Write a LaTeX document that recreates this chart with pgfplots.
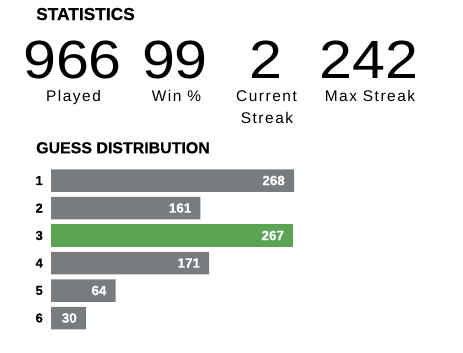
\documentclass[border=0pt]{standalone}
\usepackage{fontspec}
\usepackage{pgfplots}
\pgfplotsset{compat=1.18}
\usepackage{pgfplotstable}
\setmainfont{Liberation Sans}
\newfontfamily\headfont{Liberation Sans}[BoldFeatures={FakeBold=0.6}]
\newfontfamily\bigfont{Liberation Sans}[FakeStretch=1.1]
\newfontfamily\labfont{Liberation Sans}[LetterSpace=10]
\definecolor{wgray}{HTML}{787C7E}
\definecolor{wgreen}{HTML}{5AA454}

\pgfplotstableread{
guess count
1 268
2 161
4 171
5 64
6 30
}\graydata
\pgfplotstableread{
guess count
3 267
}\greendata

\begin{document}
\begin{tikzpicture}[x=1bp,y=1bp]
\useasboundingbox (0,0) rectangle (463,352);
% headings
\node[anchor=base west, inner sep=0pt, font=\headfont\bfseries\fontsize{17.4}{20}\selectfont] at (36,332) {STATISTICS};
\node[anchor=base west, inner sep=0pt, font=\headfont\bfseries\fontsize{16}{19}\selectfont] at (36,198.7) {GUESS DISTRIBUTION};
% big numbers
\begin{scope}[every node/.style={anchor=base, inner sep=0pt, font=\bigfont\fontsize{54}{60}\selectfont}]
\node at (72.5,274) {966};
\node at (175,274) {99};
\node at (265.5,274) {2};
\node at (369,274) {242};
\end{scope}
\begin{scope}[every node/.style={anchor=base, inner sep=0pt, font=\labfont\fontsize{15.5}{18}\selectfont}]
\node at (73.5,250.3) {Played};
\node at (176.5,250.3) {Win \%};
\node at (266.5,250.3) {Current};
\node at (267,229) {Streak};
\node at (370,250.3) {Max Streak};
\end{scope}
\begin{axis}[
  at={(51bp,20.25bp)}, anchor=south west,
  scale only axis, width=243bp, height=165bp,
  xmin=0, xmax=278, ymin=0.5, ymax=6.5,
  y dir=reverse,
  xbar, bar width=22.5bp, bar shift=0pt,
  axis line style={draw=none},
  xtick=\empty,
  ytick={1,2,3,4,5,6},
  yticklabels={1,2,3,4,5,6},
  major tick length=0pt,
  yticklabel style={font=\headfont\bfseries\fontsize{13}{15}\selectfont, inner sep=0pt, xshift=-8bp},
  /pgf/number format/assume math mode=true,
  point meta=explicit,
  nodes near coords={\pgfmathprintnumber{\pgfplotspointmeta}},
  every node near coord/.append style={anchor=east, xshift=-9bp, inner sep=0pt, text=white, font=\headfont\bfseries\fontsize{13.5}{15}\selectfont},
  clip=false,
]
\addplot[fill=wgray, draw=none] table[x expr=\thisrow{count}+10, y=guess, meta=count] {\graydata};
\addplot[fill=wgreen, draw=none] table[x expr=\thisrow{count}+10, y=guess, meta=count] {\greendata};
\end{axis}
\end{tikzpicture}
\end{document}
